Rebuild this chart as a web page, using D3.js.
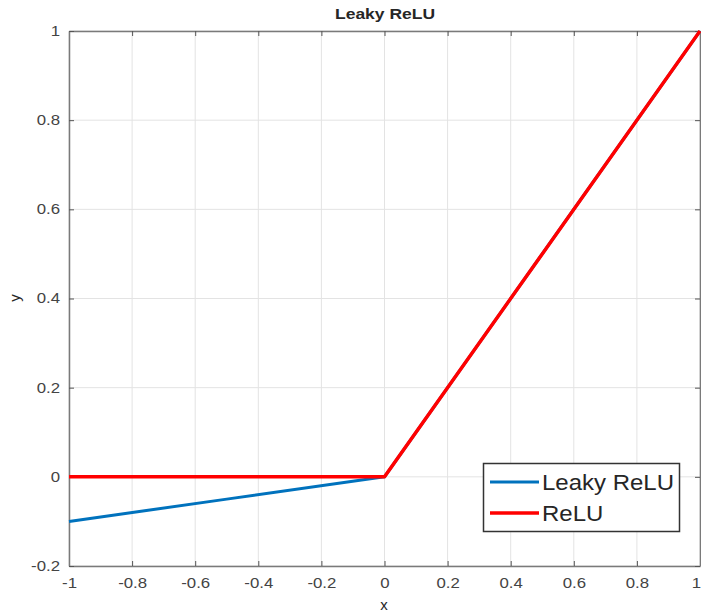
<!DOCTYPE html>
<html><head><meta charset="utf-8">
<script src="https://cdn.jsdelivr.net/npm/d3@7"></script>
<style>body{margin:0;background:#fff}text{font-family:"Liberation Sans",Arial,sans-serif}</style>
</head><body><svg id="c" width="701" height="614"></svg>
<script>
const xValues = [-1, -0.5, 0, 0.5, 1];
const leakyValues = [-0.1, -0.05, 0, 0.5, 1];
const reluValues = [0, 0, 0, 0.5, 1];
const xTicks = [-1, -0.8, -0.6, -0.4, -0.2, 0, 0.2, 0.4, 0.6, 0.8, 1];
const yTicks = [-0.2, 0, 0.2, 0.4, 0.6, 0.8, 1];
const seriesNames = ["Leaky ReLU", "ReLU"];
const seriesColors = ["#0072BD", "#FF0000"];

const svg = d3.select("#c");
const L = 69, R = 700, T = 31, B = 566;
const x = d3.scaleLinear().domain([-1, 1]).range([L, R]);
const y = d3.scaleLinear().domain([-0.2, 1]).range([B, T]);
const fmt = d => String(+d.toFixed(1));

function stretch(sel, k) {
  sel.each(function () {
    const w = this.getComputedTextLength();
    d3.select(this).attr("textLength", w * k).attr("lengthAdjust", "spacingAndGlyphs");
  });
}

// grid
svg.append("g").selectAll("line").data(xTicks).join("line")
  .attr("x1", d => x(d)).attr("x2", d => x(d)).attr("y1", T).attr("y2", B)
  .attr("stroke", "#e3e3e3").attr("stroke-width", 1);
svg.append("g").selectAll("line").data(yTicks).join("line")
  .attr("x1", L).attr("x2", R).attr("y1", d => y(d)).attr("y2", d => y(d))
  .attr("stroke", "#e3e3e3").attr("stroke-width", 1);

// axes
const xb = svg.append("g").attr("transform", `translate(0,${B})`)
  .call(d3.axisBottom(x).tickValues(xTicks).tickSizeInner(-5).tickSizeOuter(0).tickPadding(12).tickFormat(fmt));
const xt = svg.append("g").attr("transform", `translate(0,${T})`)
  .call(d3.axisTop(x).tickValues(xTicks).tickSizeInner(-5).tickSizeOuter(0).tickFormat(""));
const yl = svg.append("g").attr("transform", `translate(${L},0)`)
  .call(d3.axisLeft(y).tickValues(yTicks).tickSizeInner(-5).tickSizeOuter(0).tickPadding(9).tickFormat(fmt));
const yr = svg.append("g").attr("transform", `translate(${R},0)`)
  .call(d3.axisRight(y).tickValues(yTicks).tickSizeInner(-5).tickSizeOuter(0).tickFormat(""));
[xb, xt, yl, yr].forEach(g => {
  g.selectAll("path").attr("stroke", "#7a7a7a").attr("stroke-width", 1.5);
  g.selectAll("line").attr("stroke", "#555").attr("stroke-width", 1);
  g.selectAll("text").attr("fill", "#444").attr("font-size", 14)
    .style("font-family", "'Liberation Sans', Arial, sans-serif");
});
stretch(xb.selectAll("text"), 1.2);
stretch(yl.selectAll("text"), 1.2);
xb.selectAll("text").filter(d => d === 1).attr("x", -4);

// lines
const data = [leakyValues, reluValues];
const line = d3.line().x((d, i) => x(xValues[i])).y(d => y(d));
svg.append("g").selectAll("path").data(data).join("path")
  .attr("d", d => line(d)).attr("fill", "none")
  .attr("stroke", (d, i) => seriesColors[i]).attr("stroke-width", (d, i) => i ? 3.5 : 3)
  .attr("stroke-linejoin", "round");

// title & labels
svg.append("text").attr("x", 385).attr("y", 19).attr("text-anchor", "middle")
  .attr("font-weight", "bold").attr("font-size", 15).attr("fill", "#262626")
  .attr("textLength", 100).attr("lengthAdjust", "spacingAndGlyphs").text("Leaky ReLU");
svg.append("text").attr("x", 384).attr("y", 610).attr("text-anchor", "middle")
  .attr("font-size", 15).attr("fill", "#262626").text("x");
svg.append("text").attr("transform", "translate(20,298) rotate(-90)").attr("text-anchor", "middle")
  .attr("font-size", 15).attr("fill", "#262626").text("y");

// legend
const lg = svg.append("g");
lg.append("rect").attr("x", 483.5).attr("y", 463.5).attr("width", 196).attr("height", 68)
  .attr("fill", "#fff").attr("stroke", "#333").attr("stroke-width", 1.5);
seriesNames.forEach((n, i) => {
  const yy = 482 + i * 31;
  lg.append("line").attr("x1", 490).attr("x2", 539).attr("y1", yy).attr("y2", yy)
    .attr("stroke", seriesColors[i]).attr("stroke-width", i ? 3.5 : 3);
  const t = lg.append("text").attr("x", 542).attr("y", yy + 8).attr("font-size", 22).attr("fill", "#262626").text(n);
  stretch(t, 1.09);
});
</script></body></html>
